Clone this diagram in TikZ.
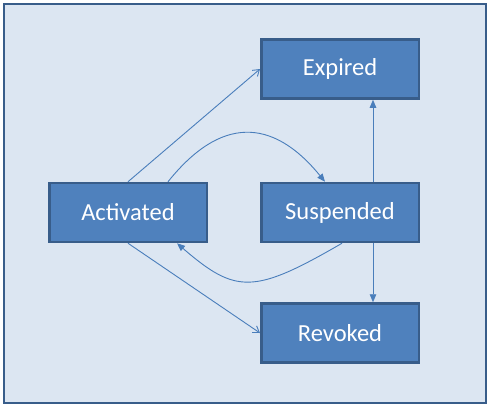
\documentclass[tikz,border=0pt]{standalone}
\usepackage{fontspec}
\setmainfont{Carlito}
\usetikzlibrary{positioning,arrows.meta}
\definecolor{boxfill}{HTML}{4F81BD}
\definecolor{boxline}{HTML}{385D8A}
\definecolor{panel}{HTML}{DCE6F2}
\definecolor{arrowline}{HTML}{4A7EBB}

\begin{document}
\begin{tikzpicture}[x=1pt,y=-1pt,on grid,
    statebox/.style={draw=boxline,fill=boxfill,line width=2.5pt,minimum width=157.5pt,
      minimum height=59pt,text=white,font=\fontsize{24.5}{29}\selectfont},
    link/.style={draw=arrowline,line width=0.9pt},
    opentip/.style={-{Straight Barb[length=6pt,width=8pt]}},
    filltip/.style={-{Triangle[length=8pt,width=6.5pt]}}]
      \useasboundingbox (0,0) rectangle (490,407);
      \draw[draw=boxline,fill=panel,line width=2.8pt] (4,4) rectangle (486,403);

      \node[statebox] (act) at (128,212.5) {Activated};
      \node[statebox] (susp) [right=212pt of act] {Suspended};
      \node[statebox] (exp) [above=143.5pt of susp] {Expired};
      \node[statebox] (rev) [below=120.5pt of susp] {Revoked};

        \draw[link,opentip] (act.north) -- (exp.west);
        \draw[link,opentip] (act.south) -- (rev.west);
        \draw[link,filltip] ([xshift=40pt]act.north)
          .. controls +(52,-65) and +(-53,-65) .. ([xshift=-15pt]susp.north);
        \draw[link,filltip] ([xshift=2pt]susp.south)
          .. controls +(-88,51) and +(59,51) .. ([xshift=49pt]act.south);
        \draw[link,filltip] ([xshift=33pt]susp.north) -- ([xshift=33pt]exp.south);
        \draw[link,filltip] ([xshift=33pt]susp.south) -- ([xshift=33pt]rev.north);
    \end{tikzpicture}
\end{document}
